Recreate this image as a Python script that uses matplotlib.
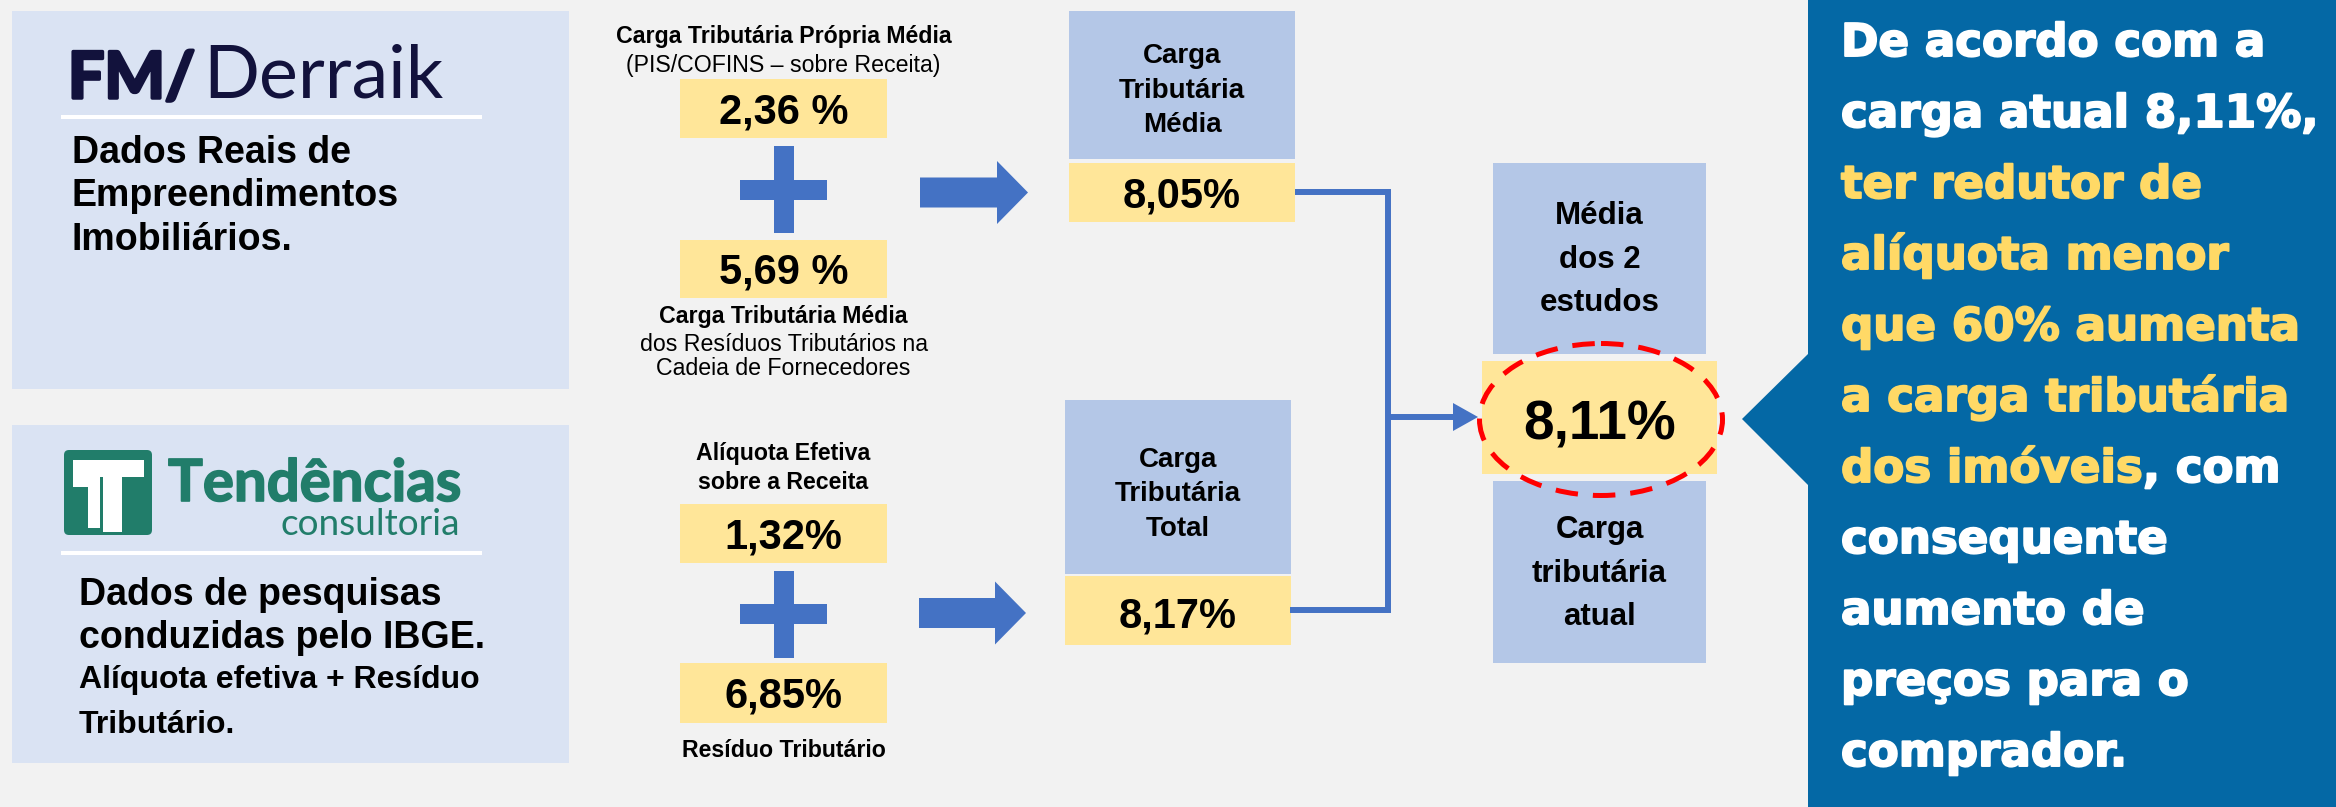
import matplotlib.pyplot as plt
import matplotlib.patheffects as pe
from matplotlib.patches import Rectangle, Polygon, Ellipse, FancyBboxPatch

# ---- textos e valores do quadro ----
fm_desc = ["Dados Reais de", "Empreendimentos", "Imobiliários."]
tend_desc = ["Dados de pesquisas", "conduzidas pelo IBGE."]
tend_desc2 = ["Alíquota efetiva + Resíduo", "Tributário."]

fm_topo = ["Carga Tributária Própria Média", "(PIS/COFINS – sobre Receita)"]
fm_base = ["Carga Tributária Média", "dos Resíduos Tributários na", "Cadeia de Fornecedores"]
fm_valores = ["2,36 %", "5,69 %"]

tend_topo = ["Alíquota Efetiva", "sobre a Receita"]
tend_base = ["Resíduo Tributário"]
tend_valores = ["1,32%", "6,85%"]

res_rotulos = [["Carga", "Tributária", "Média"], ["Carga", "Tributária", "Total"]]
res_valores = ["8,05%", "8,17%"]

media_rotulo = ["Média", "dos 2", "estudos"]
media_valor = "8,11%"
atual_rotulo = ["Carga", "tributária", "atual"]

# (texto, destaque amarelo?)
conclusao = [
    [("De acordo com a", False)],
    [("carga atual 8,11%,", False)],
    [("ter redutor de", True)],
    [("alíquota menor", True)],
    [("que 60% aumenta", True)],
    [("a carga tributária", True)],
    [("dos imóveis", True), (", com", False)],
    [("consequente", False)],
    [("aumento de", False)],
    [("preços para o", False)],
    [("comprador.", False)],
]

# ---- cores ----
BG = '#F2F2F2'
CAIXA_CLARA = '#DAE3F3'
AZUL_CX = '#B4C7E7'
AMARELO = '#FFE699'
AZUL = '#4472C4'
PAINEL = '#0468A5'
AMARELO_TXT = '#FFD966'
NAVY = '#12123C'
VERDE = '#217D6A'

fig = plt.figure(figsize=(23.36, 8.07), dpi=100, facecolor=BG)
ax = fig.add_axes([0, 0, 1, 1])
ax.set_xlim(0, 2336)
ax.set_ylim(807, 0)
ax.axis('off')
r = fig.canvas.get_renderer()


def box(x0, y0, x1, y1, color, z=1):
    ax.add_patch(Rectangle((x0, y0), x1 - x0, y1 - y0, facecolor=color,
                           edgecolor='none', zorder=z))


def txt(x, y, s, size, bold=True, color='black', ha='center', family='Liberation Sans', **kw):
    return ax.text(x, y, s, fontsize=size, fontweight='bold' if bold else 'normal',
                   color=color, ha=ha, va='baseline', family=family, zorder=5, **kw)


def fit(t, width):
    bb = t.get_window_extent(renderer=r)
    t.set_fontsize(t.get_fontsize() * width / bb.width)


def plus(cx, cy, half, thick):
    box(cx - half, cy - thick / 2, cx + half, cy + thick / 2, AZUL)
    box(cx - thick / 2, cy - half, cx + thick / 2, cy + half, AZUL)


def big_arrow(x0, x1, yc, shaft_h, head_len, head_h):
    xs = x1 - head_len
    pts = [(x0, yc - shaft_h / 2), (xs, yc - shaft_h / 2), (xs, yc - head_h / 2), (x1, yc),
           (xs, yc + head_h / 2), (xs, yc + shaft_h / 2), (x0, yc + shaft_h / 2)]
    ax.add_patch(Polygon(pts, closed=True, facecolor=AZUL, edgecolor='none'))


# ---- caixas da esquerda ----
box(12, 11, 569, 389, CAIXA_CLARA)
box(12, 425, 569, 763, CAIXA_CLARA)
box(61, 115, 482, 119, 'white', z=2)
box(61, 551, 482, 555, 'white', z=2)

t = ax.text(68, 98, "FM/", family='Lato', fontweight='bold', color=NAVY, fontsize=40, va='baseline',
            path_effects=[pe.withStroke(linewidth=2.5, foreground=NAVY)])
fit(t, 127)
t = ax.text(203, 98, "Derraik", family='Lato', fontweight='normal', color=NAVY, fontsize=40, va='baseline')
fit(t, 240)
for i, s in enumerate(fm_desc):
    txt(72, 163 + 43.5 * i, s, 27, ha='left')

# logo Tendências
ax.add_patch(FancyBboxPatch((64, 450), 88, 85, boxstyle='round,pad=0,rounding_size=5',
                            facecolor=VERDE, edgecolor='none', zorder=2))
box(73, 460, 144, 477, 'white', z=3)
box(73, 477, 100, 487, 'white', z=3)
box(88, 487, 100, 528, 'white', z=3)
box(103, 477, 122, 532, 'white', z=3)
t = ax.text(168, 501, "Tendências", family='Lato', fontweight='bold', color=VERDE, fontsize=40, va='baseline',
            path_effects=[pe.withStroke(linewidth=1.2, foreground=VERDE)])
fit(t, 293)
t = ax.text(281, 535, "consultoria", family='Lato', fontweight='normal', color=VERDE, fontsize=20, va='baseline')
fit(t, 180)
for i, s in enumerate(tend_desc):
    txt(79, 605 + 43 * i, s, 27, ha='left')
for i, s in enumerate(tend_desc2):
    txt(79, 688 + 45 * i, s, 23, ha='left')

# ---- coluna do meio ----
cx = 783.5
txt(cx, 43, fm_topo[0], 16.7)
txt(cx, 72, fm_topo[1], 16.7, bold=False)
for (y0, y1), v in zip([(79, 138), (240, 298)], fm_valores):
    box(680, y0, 887, y1, AMARELO)
    txt(cx, (y0 + y1) / 2 + 15, v, 30)
plus(cx, 189.5, 43.5, 20)
txt(cx, 323, fm_base[0], 16.7)
txt(cx, 351, fm_base[1], 16.7, bold=False)
txt(cx, 375, fm_base[2], 16.7, bold=False)

txt(cx, 460, tend_topo[0], 16.7)
txt(cx, 489, tend_topo[1], 16.7)
for (y0, y1), v in zip([(504, 563), (663, 723)], tend_valores):
    box(680, y0, 887, y1, AMARELO)
    txt(cx, (y0 + y1) / 2 + 15, v, 30)
plus(cx, 614, 43.5, 20)
txt(cx, 757, tend_base[0], 16.7)

big_arrow(920, 1028, 192.5, 30, 31, 63)
big_arrow(919, 1026, 613, 30, 31, 63)

# ---- resultados de cada estudo ----
geo = [((1069, 1295, 11, 159, 163, 222), [63, 98, 132], 208),
       ((1065, 1291, 400, 574, 576, 645), [467, 501, 536], 628)]
for (g, bases, vb), rot, v in zip(geo, res_rotulos, res_valores):
    x0, x1, b0, b1, y0, y1 = g
    box(x0, b0, x1, b1, AZUL_CX)
    box(x0, y0, x1, y1, AMARELO)
    xc = (x0 + x1) / 2
    for s, yb in zip(rot, bases):
        txt(xc, yb, s, 20)
    txt(xc, vb, v, 30)

# conector
ax.plot([1295, 1388, 1388, 1290], [192, 192, 610, 610], color=AZUL, lw=4.3,
        solid_joinstyle='miter', solid_capstyle='butt', zorder=3)
ax.plot([1388, 1456], [417, 417], color=AZUL, lw=4.3, solid_capstyle='butt', zorder=3)
ax.add_patch(Polygon([(1453, 403), (1478, 417), (1453, 431)], closed=True,
                     facecolor=AZUL, edgecolor='none', zorder=3))

# ---- média dos estudos ----
box(1493, 163, 1706, 354, AZUL_CX)
box(1482, 361, 1717, 474, AMARELO)
box(1493, 481, 1706, 663, AZUL_CX)
mx = 1599.5
for s, yb in zip(media_rotulo, [224, 268, 311]):
    txt(mx, yb, s, 22.5)
txt(mx, 440, media_valor, 39.5)
for s, yb in zip(atual_rotulo, [538, 582, 625]):
    txt(mx, yb, s, 22.5)
ax.add_patch(Ellipse((1601, 419.5), 243, 152, fill=False, edgecolor='#FF0000', lw=3.6,
                     linestyle=(0, (4.5, 3)), zorder=6))

# ---- painel de conclusão ----
ax.add_patch(Polygon([(1808, 0), (2336, 0), (2336, 807), (1808, 807), (1808, 485),
                      (1742, 419), (1808, 354)], closed=True, facecolor=PAINEL,
                     edgecolor='none', zorder=2))
for i, linha in enumerate(conclusao):
    y = 56 + 71 * i
    prev = None
    for s, dest in linha:
        cor = AMARELO_TXT if dest else 'white'
        efeito = [pe.withStroke(linewidth=1.4, foreground=cor)]
        if prev is None:
            prev = ax.text(1841, y, s, fontsize=32.5, fontweight='bold', color=cor,
                           family='DejaVu Sans', ha='left', va='baseline', zorder=5,
                           path_effects=efeito)
        else:
            prev = ax.annotate(s, xy=(1, 0), xycoords=prev, fontsize=32.5, fontweight='bold',
                               color=cor, family='DejaVu Sans', ha='left', va='bottom', zorder=5,
                               path_effects=efeito)

fig.savefig('out.png', dpi=100, facecolor=BG)
